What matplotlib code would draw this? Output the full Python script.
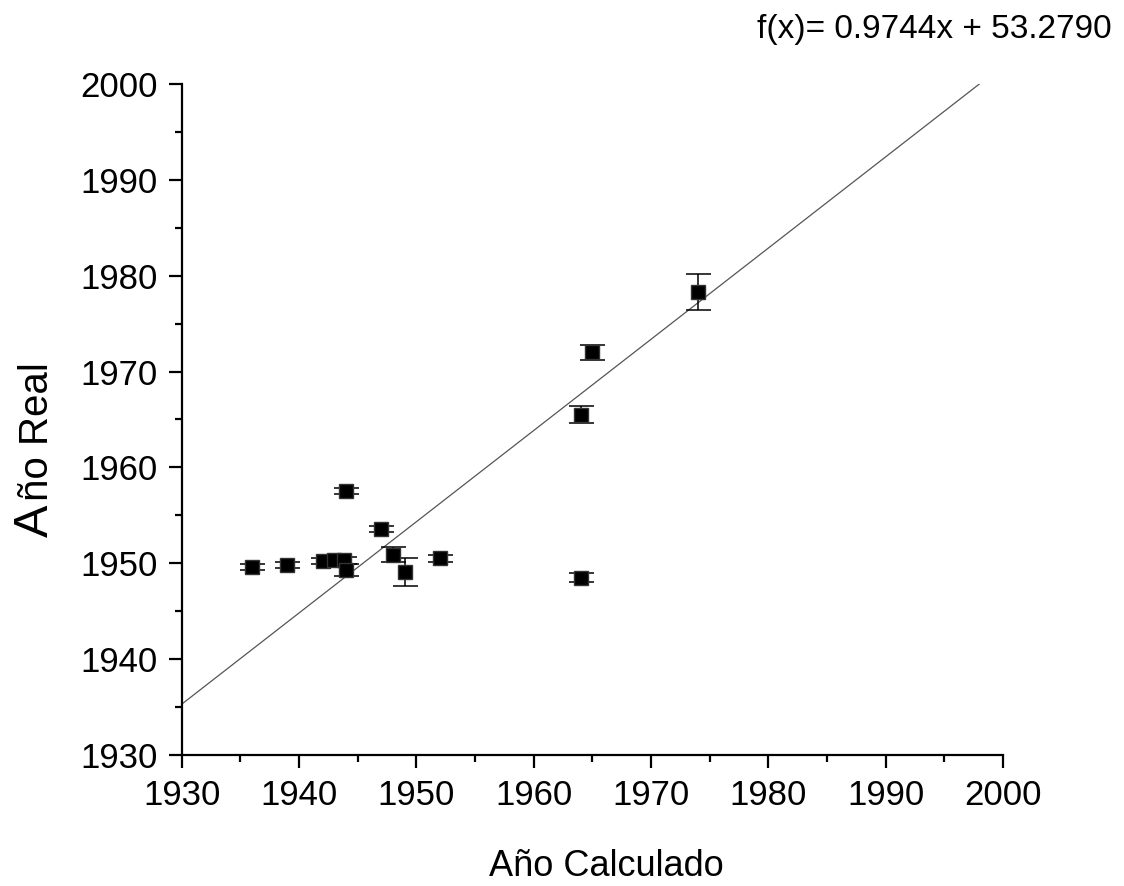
import numpy as np
from matplotlib import pyplot as plt
from matplotlib.ticker import MultipleLocator

plt.rcParams['font.family'] = ['Liberation Sans', 'DejaVu Sans']

# data
calc = [1936, 1939, 1942, 1943, 1943.8, 1944, 1944, 1947, 1948, 1949, 1952, 1964, 1964, 1965, 1974]
real = [1949.6, 1949.8, 1950.2, 1950.3, 1950.3, 1949.3, 1957.5, 1953.6, 1950.9, 1949.1, 1950.5,
        1948.5, 1965.5, 1972.0, 1978.3]
err = [0.3, 0.3, 0.3, 0.3, 0.4, 0.6, 0.3, 0.3, 0.8, 1.5, 0.4, 0.5, 0.9, 0.8, 1.9]

# fitted line as drawn (end points)
fit_x = [1930, 1998]
fit_y = [1935.3, 2000.0]

fig = plt.figure(figsize=(11.24, 8.86), dpi=100)
ax = fig.add_axes([0.1617, 0.1479, 0.7305, 0.7573])

ax.plot(fit_x, fit_y, color='#555555', lw=0.9)
ax.errorbar(calc, real, yerr=err, fmt='s', color='black', ms=10,
            mec='#333333', ecolor='black', elinewidth=1.1, capsize=9, capthick=1.1)

ax.set_xlim(1930, 2000)
ax.set_ylim(1930, 2000)
ax.xaxis.set_major_locator(MultipleLocator(10))
ax.yaxis.set_major_locator(MultipleLocator(10))
ax.xaxis.set_minor_locator(MultipleLocator(5))
ax.yaxis.set_minor_locator(MultipleLocator(5))

for s in ['top', 'right']:
    ax.spines[s].set_visible(False)
for s in ['left', 'bottom']:
    ax.spines[s].set_linewidth(1.6)

ax.tick_params(which='major', direction='out', length=9.5, width=1.6, labelsize=25, pad=8)
ax.tick_params(which='minor', direction='out', length=5, width=1.6)

# x label
fig.text(606 / 1124, 1 - 876 / 886, 'Año Calculado', fontsize=26, ha='center', va='baseline')

# y label with the bigger first letter
fig.text(48 / 1124, 1 - 537 / 886, 'A', fontsize=35, rotation=90, rotation_mode='anchor',
         ha='left', va='baseline')
fig.text(48 / 1124, 1 - 501 / 886, 'ño Real', fontsize=29, rotation=90, rotation_mode='anchor',
         ha='left', va='baseline')

# equation
fig.text(1112 / 1124, 1 - 38 / 886, 'f(x)= 0.9744x + 53.2790', fontsize=24, ha='right', va='baseline')

fig.savefig('out.png', dpi=100)
